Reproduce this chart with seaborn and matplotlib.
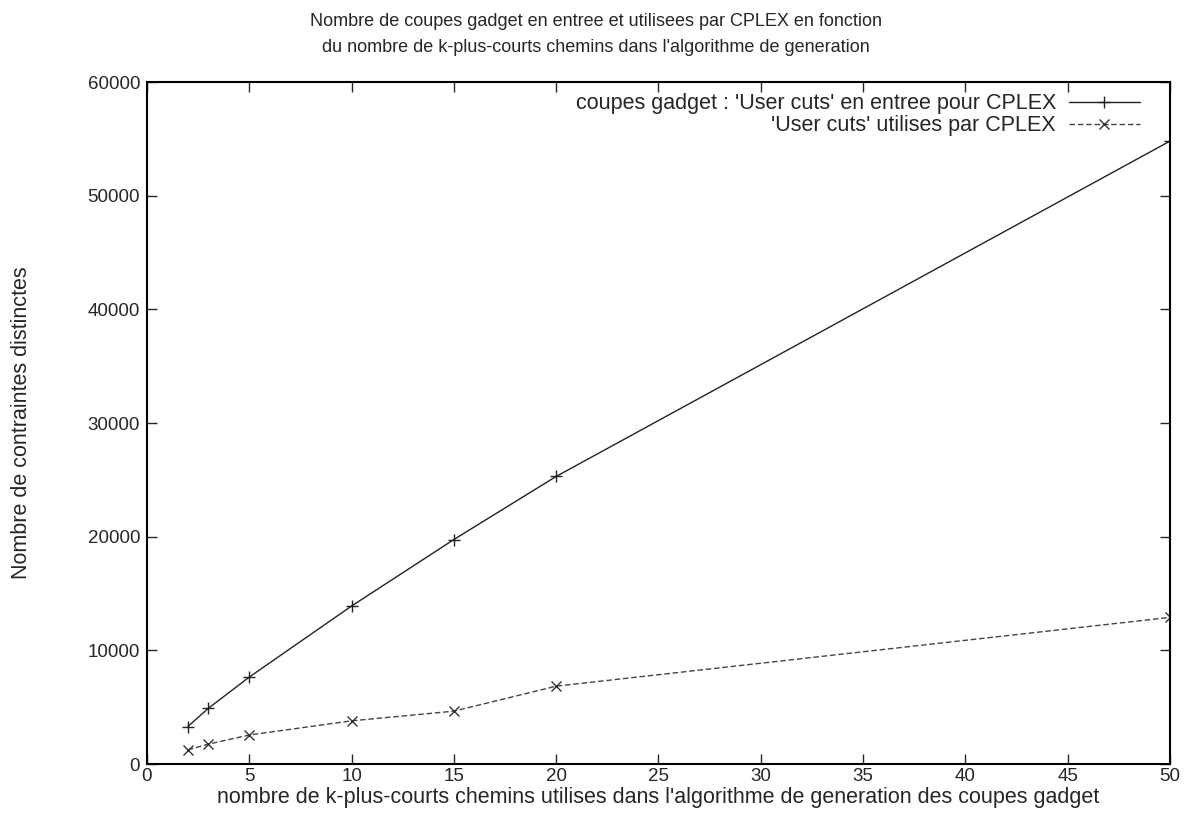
import numpy as np
import pandas as pd
import matplotlib
matplotlib.use("Agg")
import matplotlib.pyplot as plt
import seaborn as sns

# k values (number of k-shortest paths)
k_values = [2, 3, 5, 10, 15, 20, 50]
# user cuts given to CPLEX
cuts_input = [3300, 4900, 7650, 13900, 19750, 25300, 54800]
# user cuts actually used by CPLEX
cuts_used = [1250, 1750, 2550, 3800, 4650, 6850, 12900]

label_input = "coupes gadget : 'User cuts' en entree pour CPLEX"
label_used = "'User cuts' utilises par CPLEX"

sns.set_theme(style="ticks")
plt.rcParams['font.family'] = ['Liberation Sans', 'DejaVu Sans']
plt.rcParams['font.size'] = 13

df = pd.DataFrame({"k": k_values, "input": cuts_input, "used": cuts_used})

fig = plt.figure(figsize=(11.92, 8.36), dpi=100)
ax = fig.add_axes([0.1233, 0.0861, 0.8582, 0.8158])

sns.lineplot(data=df, x="k", y="input", ax=ax, color="#222222", linewidth=1.0,
             marker="+", markersize=8, markeredgewidth=1.0,
             markeredgecolor="#222222", label=label_input)
sns.lineplot(data=df, x="k", y="used", ax=ax, color="#444444", linewidth=1.0,
             linestyle=(0, (4, 2)), marker="x", markersize=7, markeredgewidth=1.0,
             markeredgecolor="#333333", label=label_used)

ax.set_xlim(0, 50)
ax.set_ylim(0, 60000)
ax.set_xticks(np.arange(0, 51, 5))
ax.set_yticks(np.arange(0, 60001, 10000))
ax.tick_params(direction="in", top=True, right=True, length=7, width=1,
               labelsize=13.5, pad=5)
ax.tick_params(axis="x", pad=3)
for s in ax.spines.values():
    s.set_linewidth(1.5)
    s.set_color("black")

ax.set_xlabel("nombre de k-plus-courts chemins utilises dans l'algorithme de generation des coupes gadget",
              fontsize=15.5, labelpad=1)
ax.set_ylabel("Nombre de contraintes distinctes", fontsize=15.5, labelpad=40)

fig.suptitle("Nombre de coupes gadget en entree et utilisees par CPLEX en fonction\n"
             "du nombre de k-plus-courts chemins dans l'algorithme de generation",
             fontsize=13, y=0.984, linespacing=1.65)

ax.legend(loc="upper right", frameon=False, markerfirst=False, fontsize=15.5,
          handlelength=3.3, handletextpad=0.6, borderaxespad=0.0,
          borderpad=0.3, labelspacing=0.05, bbox_to_anchor=(0.977, 0.993))

fig.savefig("out.png", dpi=100)
